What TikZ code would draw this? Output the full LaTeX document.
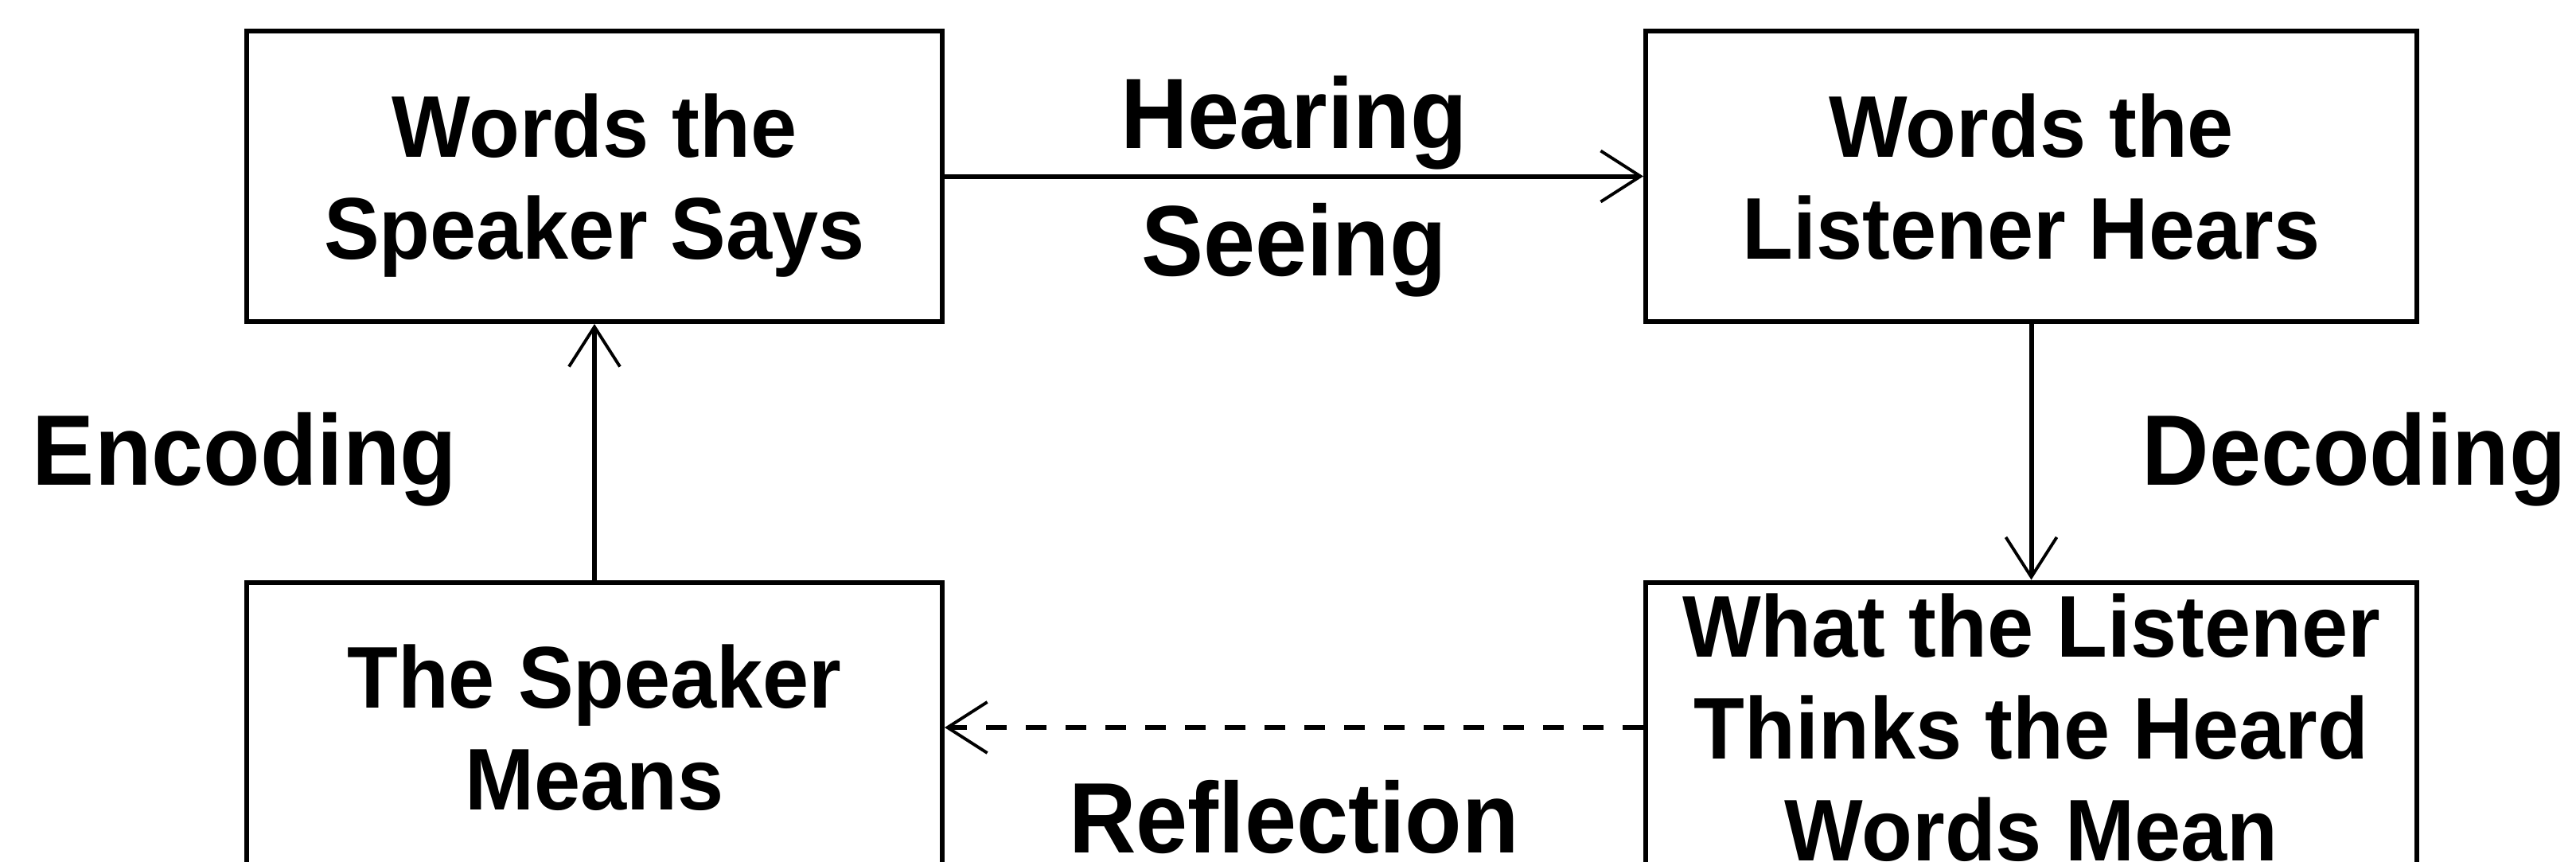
\documentclass[tikz,border=0pt]{standalone}
\usepackage{fontspec}
\setmainfont{Liberation Sans}
\newfontfamily\stagefont[FakeStretch=0.95]{Liberation Sans}
\newfontfamily\tagfont[FakeStretch=0.93]{Liberation Sans}
\usepackage{tikz}
\usetikzlibrary{arrows.meta}

\tikzset{
  stage/.style={draw, line width=0.06cm, minimum height=3.65cm, text depth=0pt, align=center, font=\stagefont\bfseries\fontsize{31.3pt}{36.4pt}\selectfont},
  flow/.style={line width=0.06cm, arrows={-Straight Barb[length=0.5cm, width=0.64cm, line width=1.1pt]}},
  tag/.style={font=\tagfont\bfseries\fontsize{35.8pt}{45.5pt}\selectfont, inner sep=0pt},
}

\begin{document}
\begin{tikzpicture}
\clip (0, 0) rectangle (32.37, -10.82);
\fill[white] (0, 0) rectangle (32.37, -10.82);
\node[stage, minimum width=8.74cm] (words_said) at (7.47, -2.215) {Words the\\Speaker Says};
\node[stage, minimum width=9.69cm] (words_heard) at (25.525, -2.215) {Words the\\Listener Hears};
\node[stage, minimum width=8.74cm] (speaker_meaning) at (7.47, -9.14) {The Speaker\\Means};
\node[stage, minimum width=9.69cm] (listener_meaning) at (25.525, -9.14) {What the Listener\\Thinks the Heard\\Words Mean};
\draw[flow] (words_said) -- node[tag, anchor=base, yshift=0.35cm] (hearing) {Hearing} node[tag, anchor=base, yshift=-1.25cm] (seeing) {Seeing} (words_heard);
\draw[flow] (words_heard) -- node[tag, anchor=base west, xshift=1.36cm, yshift=-0.42cm] (decoding) {Decoding} (listener_meaning);
\draw[flow, dash pattern=on 0.26cm off 0.24cm] (listener_meaning) -- node[tag, anchor=base, yshift=-1.57cm] (reflection) {Reflection} (speaker_meaning);
\draw[flow] (speaker_meaning) -- node[tag, anchor=base east, xshift=-1.70cm, yshift=-0.42cm] (encoding) {Encoding} (words_said);
\end{tikzpicture}
\end{document}
